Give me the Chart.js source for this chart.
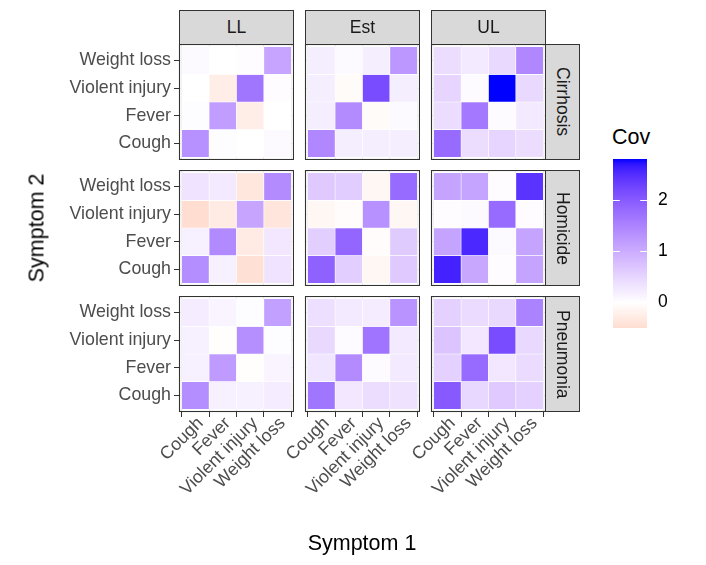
<!DOCTYPE html>
<html>
<head>
<meta charset="utf-8">
<script src="https://cdn.jsdelivr.net/npm/chart.js@4"></script>
<style>
  html, body { margin: 0; padding: 0; background: #ffffff; }
  #wrap { position: relative; width: 706px; height: 565px; overflow: hidden; font-family: "Liberation Sans", Arial, Helvetica, sans-serif; }
  canvas { position: absolute; }
  .strip { position: absolute; box-sizing: border-box; background: #d9d9d9; border: 1px solid #333333;
           display: flex; align-items: center; justify-content: center; font-size: 17.5px; color: #1a1a1a; }
  .vert { writing-mode: vertical-rl; }
  .title { position: absolute; font-size: 21.5px; color: #000; white-space: nowrap; }
</style>
</head>
<body>
<div id="wrap"></div>
<script>
// ---------------- data ----------------
const symptoms = ["Cough", "Fever", "Violent injury", "Weight loss"];
const estimates = ["LL", "Est", "UL"];
const causes = ["Cirrhosis", "Homicide", "Pneumonia"];
const legendTicks = [0, 1, 2];

// rows = Symptom 2 (Cough, Fever, Violent injury, Weight loss); columns = Symptom 1 (same order)
const cirrhosisLL = [
  [1.33, 0.04, 0.00, 0.06],
  [0.04, 1.18, -0.25, 0.00],
  [0.00, -0.25, 1.66, 0.03],
  [0.06, 0.00, 0.03, 1.09]
];
const cirrhosisEst = [
  [1.45, 0.20, 0.20, 0.20],
  [0.20, 1.40, -0.06, 0.07],
  [0.20, -0.06, 2.16, 0.20],
  [0.20, 0.07, 0.20, 1.25]
];
const cirrhosisUL = [
  [1.80, 0.40, 0.50, 0.40],
  [0.40, 1.62, 0.05, 0.25],
  [0.50, 0.05, 2.80, 0.45],
  [0.40, 0.25, 0.45, 1.45]
];
const homicideLL = [
  [1.38, 0.17, -0.45, 0.33],
  [0.17, 1.42, -0.30, 0.28],
  [-0.50, -0.30, 1.08, -0.38],
  [0.33, 0.25, -0.35, 1.40]
];
const homicideEst = [
  [1.90, 0.58, -0.12, 0.65],
  [0.58, 1.85, -0.04, 0.62],
  [-0.12, -0.04, 1.33, -0.12],
  [0.65, 0.60, -0.12, 1.80]
];
const homicideUL = [
  [2.60, 1.05, 0.03, 1.10],
  [1.10, 2.55, 0.07, 1.10],
  [0.03, 0.07, 1.80, 0.03],
  [1.10, 1.10, 0.03, 2.44]
];
const pneumoniaLL = [
  [1.38, 0.17, 0.18, 0.22],
  [0.17, 1.20, -0.02, 0.13],
  [0.18, -0.02, 1.35, 0.04],
  [0.22, 0.13, 0.04, 1.15]
];
const pneumoniaEst = [
  [1.66, 0.28, 0.40, 0.35],
  [0.30, 1.40, 0.05, 0.25],
  [0.45, 0.05, 1.68, 0.25],
  [0.38, 0.25, 0.22, 1.30]
];
const pneumoniaUL = [
  [2.00, 0.48, 0.65, 0.55],
  [0.55, 1.80, 0.28, 0.42],
  [0.70, 0.28, 2.16, 0.45],
  [0.55, 0.42, 0.45, 1.50]
];

const panels = [
  [cirrhosisLL, cirrhosisEst, cirrhosisUL],
  [homicideLL, homicideEst, homicideUL],
  [pneumoniaLL, pneumoniaEst, pneumoniaUL]
];

// ---------------- colour scale (Lab interpolation, low red / mid white / high blue) ----------------
function lin(c){ c/=255; return c<=0.04045? c/12.92 : Math.pow((c+0.055)/1.055,2.4); }
function delin(c){ const v = c<=0.0031308? 12.92*c : 1.055*Math.pow(c,1/2.4)-0.055; return Math.round(Math.max(0,Math.min(1,v))*255); }
function toLab(rgb){
  const r=lin(rgb[0]), g=lin(rgb[1]), b=lin(rgb[2]);
  let X=(0.4124564*r+0.3575761*g+0.1804375*b)/0.95047;
  let Y=(0.2126729*r+0.7151522*g+0.0721750*b);
  let Z=(0.0193339*r+0.1191920*g+0.9503041*b)/1.08883;
  const f=t=> t>0.008856? Math.cbrt(t) : 7.787*t+16/116;
  const fx=f(X), fy=f(Y), fz=f(Z);
  return [116*fy-16, 500*(fx-fy), 200*(fy-fz)];
}
function fromLab(L,a,b){
  const fy=(L+16)/116, fx=a/500+fy, fz=fy-b/200;
  const fi=t=> t*t*t>0.008856? t*t*t : (t-16/116)/7.787;
  const X=0.95047*fi(fx), Y=fi(fy), Z=1.08883*fi(fz);
  const r= 3.2404542*X-1.5371385*Y-0.4985314*Z;
  const g=-0.9692660*X+1.8760108*Y+0.0415560*Z;
  const bb=0.0556434*X-0.2040259*Y+1.0572252*Z;
  return `rgb(${delin(r)},${delin(g)},${delin(bb)})`;
}
const LAB_W = toLab([255,255,255]), LAB_HI = toLab([0,0,255]), LAB_LO = toLab([255,0,0]);
const allVals = panels.flat(3);
const vMin = Math.min(...allVals), vMax = Math.max(...allVals);
const vAbs = Math.max(Math.abs(vMin), Math.abs(vMax));
function colorFor(v){
  const t = Math.min(1, Math.abs(v)/vAbs);
  const end = v>=0? LAB_HI : LAB_LO;
  return fromLab(LAB_W[0]+(end[0]-LAB_W[0])*t, LAB_W[1]+(end[1]-LAB_W[1])*t, LAB_W[2]+(end[2]-LAB_W[2])*t);
}

// ---------------- layout ----------------
const FONT = '"Liberation Sans", Arial, Helvetica, sans-serif';
const colLeft = [179, 305, 431], panelW = 115;
const rowTop = [44, 170, 296], panelH = 116;
const yAxisW = 179, xAxisH = 110, extraLeft = 130;
const wrap = document.getElementById('wrap');

function addDiv(cls, text, css){
  const d=document.createElement('div'); d.className=cls; d.textContent=text; Object.assign(d.style, css); wrap.appendChild(d); return d;
}

const borderPlugin = {
  id: 'panelBorder',
  afterDraw(chart){
    const a = chart.chartArea, ctx = chart.ctx;
    ctx.save(); ctx.strokeStyle = '#333333'; ctx.lineWidth = 1.1;
    ctx.strokeRect(Math.round(a.left)+0.5, Math.round(a.top)+0.5, Math.round(a.right-a.left)-1, Math.round(a.bottom-a.top)-1);
    ctx.restore();
  }
};
function noPad(s){ s.paddingTop = 0; s.paddingBottom = 0; s.paddingLeft = 0; s.paddingRight = 0; }

for (let r=0; r<3; r++){
  for (let c=0; c<3; c++){
    const m = panels[r][c];
    const showY = c===0, showX = r===2;
    const left = showY? 0 : colLeft[c]-extraLeft;
    const width = colLeft[c]+panelW-left;
    const height = panelH + (showX? xAxisH : 0);
    const cv = document.createElement('canvas');
    cv.width = width; cv.height = height;
    cv.style.left = left+'px'; cv.style.top = rowTop[r]+'px';
    cv.style.width = width+'px'; cv.style.height = height+'px';
    wrap.appendChild(cv);

    const data = [], colors = [];
    for (let i=0;i<4;i++) for (let j=0;j<4;j++){
      data.push({x:j+1, y:[i+0.5, i+1.5]});
      colors.push(colorFor(m[i][j]));
    }
    const tickSet = s => { s.ticks = symptoms.map((_,k)=>({value:k+1})); };
    new Chart(cv, {
      type: 'bar',
      data: { datasets: [{ data, backgroundColor: colors, borderColor: '#ffffff', borderWidth: 0.6,
                           borderSkipped: false, barPercentage: 1, categoryPercentage: 1 }] },
      options: {
        responsive: false, animation: false, devicePixelRatio: 1,
        layout: { padding: { left: showY? 0 : extraLeft, right: 0, top: 0, bottom: 0 } },
        plugins: { legend: {display:false}, tooltip: {enabled:false} },
        scales: {
          x: { type:'linear', min:0.4, max:4.6, offset:false,
               afterBuildTicks: tickSet,
               afterFit: s => { s.height = showX? xAxisH : 0; noPad(s); },
               grid: { color:'#ebebeb', lineWidth:1, drawTicks: showX, tickLength:5, tickColor:'#333333', tickWidth:1 },
               border: { display:false },
               ticks: { display: showX, autoSkip:false, maxRotation:45, minRotation:45, padding:-4, labelOffset:5,
                        color:'#4d4d4d', font:{family:FONT, size:17.8},
                        callback: v => symptoms[v-1] } },
          y: { type:'linear', min:0.4, max:4.6,
               afterBuildTicks: tickSet,
               afterFit: s => { s.width = showY? yAxisW : 0; noPad(s); },
               grid: { color:'#ebebeb', lineWidth:1, drawTicks: showY, tickLength:5, tickColor:'#333333', tickWidth:1 },
               border: { display:false },
               ticks: { display: showY, autoSkip:false, padding:3,
                        color:'#4d4d4d', font:{family:FONT, size:17.8},
                        callback: v => symptoms[v-1] } }
        }
      },
      plugins: [borderPlugin]
    });
  }
}

// strips
estimates.forEach((t,c)=> addDiv('strip', t, {left: colLeft[c]+'px', top:'10px', width: panelW+'px', height:'35px'}));
causes.forEach((t,r)=> {
  const d = addDiv('strip', '', {left:'545px', top: rowTop[r]+'px', width:'35px', height: panelH+'px'});
  const s = document.createElement('span'); s.className='vert'; s.textContent=t; d.appendChild(s);
});

// axis titles
addDiv('title', 'Symptom 1', {left:'362px', top:'543px', transform:'translate(-50%,-50%)'});
addDiv('title', 'Symptom 2', {left:'37px', top:'228px', transform:'translate(-50%,-50%) rotate(-90deg)'});
addDiv('title', 'Cov', {left:'612px', top:'137px', transform:'translate(0,-50%)'});

// ---------------- legend colourbar ----------------
const lg = document.createElement('canvas');
lg.width = 100; lg.height = 220; lg.style.left='600px'; lg.style.top='120px'; lg.style.width='100px'; lg.style.height='220px';
wrap.appendChild(lg);
const legendTickPlugin = {
  id:'legendTicks',
  afterDatasetsDraw(chart){
    const ctx = chart.ctx, a = chart.chartArea, ys = chart.scales.y;
    const tl = (a.right-a.left)/5;
    ctx.save(); ctx.strokeStyle='#ffffff'; ctx.lineWidth=1;
    legendTicks.forEach(v=>{
      const py = Math.round(ys.getPixelForValue(v))+0.5;
      ctx.beginPath(); ctx.moveTo(a.left,py); ctx.lineTo(a.left+tl,py); ctx.moveTo(a.right-tl,py); ctx.lineTo(a.right,py); ctx.stroke();
    });
    ctx.restore();
  }
};
new Chart(lg, {
  type:'bar',
  data:{ labels:['Cov'], datasets:[{ data:[[vMin, vMax]], borderWidth:0, barPercentage:1, categoryPercentage:1,
    backgroundColor: (ctx)=>{
      const ch = ctx.chart, ys = ch.scales.y;
      if (!ys || !ch.chartArea) return '#ffffff';
      const y0 = ys.getPixelForValue(vMin), y1 = ys.getPixelForValue(vMax);
      const g = ch.ctx.createLinearGradient(0, y0, 0, y1);
      const n = 40;
      for (let k=0;k<=n;k++){ const v = vMin+(vMax-vMin)*k/n; g.addColorStop(k/n, colorFor(v)); }
      return g;
    } }] },
  options:{
    responsive:false, animation:false, devicePixelRatio:1,
    layout:{ padding:{ left:13, top:39, bottom:12, right:0 } },
    plugins:{ legend:{display:false}, tooltip:{enabled:false} },
    scales:{
      x:{ display:false },
      y:{ position:'right', min:vMin, max:vMax,
          afterBuildTicks: s => { s.ticks = legendTicks.map(v=>({value:v})); },
          afterFit: s => { s.width = 53; noPad(s); },
          grid:{ display:false, drawTicks:false }, border:{display:false},
          ticks:{ padding:11, color:'#000000', font:{family:FONT, size:17.5} } }
    }
  },
  plugins:[legendTickPlugin]
});
</script>
</body>
</html>
